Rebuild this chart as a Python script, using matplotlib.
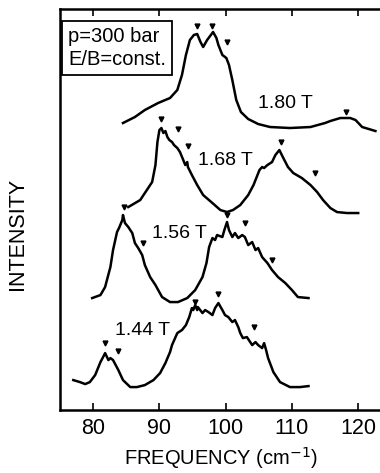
import numpy as np
import matplotlib
matplotlib.use("Agg")
from matplotlib import pyplot as plt

plt.rcParams['font.family'] = ['Liberation Sans', 'DejaVu Sans']

# 1.80 T trace
f180 = [84.5, 86.3, 87.8, 89.8, 91.6, 92.7, 93.4, 94.0, 94.6, 95.2, 95.7, 96.2, 96.6, 97.2,
        98.1, 98.6, 98.9, 99.5, 100.1, 100.5, 101.0, 101.6, 102.3, 103.4, 104.9, 106.7,
        109.7, 112.8, 115.0, 115.8, 117.3, 118.8, 119.6, 120.6, 122.6]
i180 = [287, 293, 300, 307, 312, 320, 335, 355, 370, 375, 376, 368, 363, 370,
        378, 372, 365, 355, 352, 345, 330, 310, 298, 291, 286, 283,
        282, 283, 287, 289, 292, 292, 290, 283, 279]
m180_f = [95.7, 97.9, 100.2, 118.2]
m180_i = [384, 384, 368, 298]

# 1.68 T trace
f168 = [85.3, 87.1, 88.9, 89.4, 89.7, 90.0, 90.3, 90.6, 90.9, 91.2, 91.5, 91.9, 92.2, 92.7,
        93.1, 93.6, 93.9, 94.2, 94.3, 94.9, 95.7, 96.6, 98.0, 99.2, 100.2, 101.1, 102.2,
        103.4, 104.2, 104.8, 105.1, 105.5, 105.8, 106.3, 107.0, 107.5, 108.1, 108.7,
        109.4, 110.2, 111.5, 112.8, 113.8, 114.7, 115.8, 116.8, 118.3, 120.0]
i168 = [203, 210, 228, 245, 268, 280, 282, 277, 279, 273, 270, 268, 265, 262,
        258, 250, 245, 248, 243, 235, 225, 215, 207, 200, 198, 200, 205,
        215, 225, 235, 240, 243, 242, 245, 248, 255, 260, 252,
        243, 237, 232, 225, 218, 210, 202, 198, 197, 197]
m168_f = [90.3, 92.8, 94.3, 108.4, 113.5]
m168_i = [291, 281, 264, 268, 237]

# 1.56 T trace
f156 = [79.85, 81.1, 81.8, 82.6, 83.0, 83.6, 83.9, 84.4, 84.5, 84.8, 85.3, 85.9, 86.3, 86.8,
        87.4, 87.8, 88.6, 89.4, 90.4, 91.6, 92.8, 94.2, 95.4, 96.5, 97.1, 97.5, 98.0,
        98.4, 98.7, 99.5, 99.8, 100.2, 100.5, 101.0, 101.4, 101.9, 102.5, 102.9, 103.4,
        104.0, 104.5, 104.9, 105.5, 106.3, 107.0, 107.9, 109.0, 110.0, 110.9, 112.5]
i156 = [112, 115, 123, 143, 160, 178, 182, 190, 195, 187, 183, 177, 167, 162,
        155, 145, 133, 125, 113, 108, 108, 112, 120, 133, 147, 163, 172,
        170, 175, 173, 180, 188, 180, 173, 177, 172, 175, 173, 165,
        168, 160, 162, 153, 147, 140, 133, 127, 120, 113, 112]
m156_f = [84.6, 87.5, 100.2, 102.9, 107.0]
m156_i = [203, 167, 195, 187, 150]

# 1.44 T trace
f144 = [77.0, 78.0, 78.8, 79.5, 80.3, 81.1, 81.5, 81.8, 82.3, 82.6, 83.0, 83.8, 84.5, 85.6,
        86.6, 87.8, 89.1, 90.1, 90.9, 91.6, 91.9, 92.7, 93.4, 94.0, 94.5, 94.9, 95.1,
        95.4, 95.7, 95.8, 96.5, 96.9, 97.4, 98.0, 98.4, 98.9, 99.5, 99.9, 100.4, 101.0,
        101.4, 101.9, 102.2, 102.6, 103.2, 103.5, 104.0, 104.5, 104.9, 105.5, 105.8,
        106.1, 106.4, 107.2, 108.2, 109.7, 111.2, 112.5]
i144 = [30, 28, 26, 28, 35, 48, 53, 57, 50, 52, 50, 40, 30, 23,
        23, 25, 30, 37, 47, 58, 65, 77, 80, 85, 93, 102, 100,
        105, 100, 103, 97, 100, 98, 95, 102, 107, 100, 95, 93, 88,
        90, 83, 77, 72, 73, 70, 65, 68, 65, 62, 67,
        60, 52, 38, 28, 23, 23, 24]
m144_f = [81.8, 83.8, 95.4, 98.9, 104.2]
m144_i = [67, 59, 108, 116, 83]

labels = ["1.80 T", "1.68 T", "1.56 T", "1.44 T"]
label_f = [109.0, 99.9, 93.0, 87.4]
label_i = [307, 250, 177, 80]

fig = plt.figure(figsize=(3.8, 4.73), dpi=100)
ax = fig.add_axes([0.158, 0.133, 0.85, 0.848])

for f, i in [(f180, i180), (f168, i168), (f156, i156), (f144, i144)]:
    ax.plot(f, i, color='black', lw=1.8, solid_joinstyle='round')
for f, i in [(m180_f, m180_i), (m168_f, m168_i), (m156_f, m156_i), (m144_f, m144_i)]:
    ax.plot(f, i, 'v', color='black', ms=3.5, ls='none')

for t, f, i in zip(labels, label_f, label_i):
    ax.text(f, i, t, fontsize=14, ha='center', va='center')

ax.text(0.025, 0.955, "p=300 bar\nE/B=const.", transform=ax.transAxes,
        fontsize=14.5, ha='left', va='top', linespacing=1.25,
        bbox=dict(boxstyle='square,pad=0.3', fc='white', ec='black', lw=1.3))

ax.set_xlim(75, 123.75)
ax.set_ylim(0, 401)
ax.set_xticks([80, 90, 100, 110, 120])
ax.set_yticks([])
ax.tick_params(axis='x', direction='in', length=5, width=1.2, top=True,
               labelsize=15.5, pad=6)
for s in ax.spines.values():
    s.set_linewidth(1.8)

ax.set_xlabel("FREQUENCY (cm$^{-1}$)", fontsize=14.5, labelpad=4)
ax.set_ylabel("INTENSITY", fontsize=15.5)
ax.yaxis.set_label_coords(-0.10, 0.44)

fig.savefig("out.png", dpi=100)
